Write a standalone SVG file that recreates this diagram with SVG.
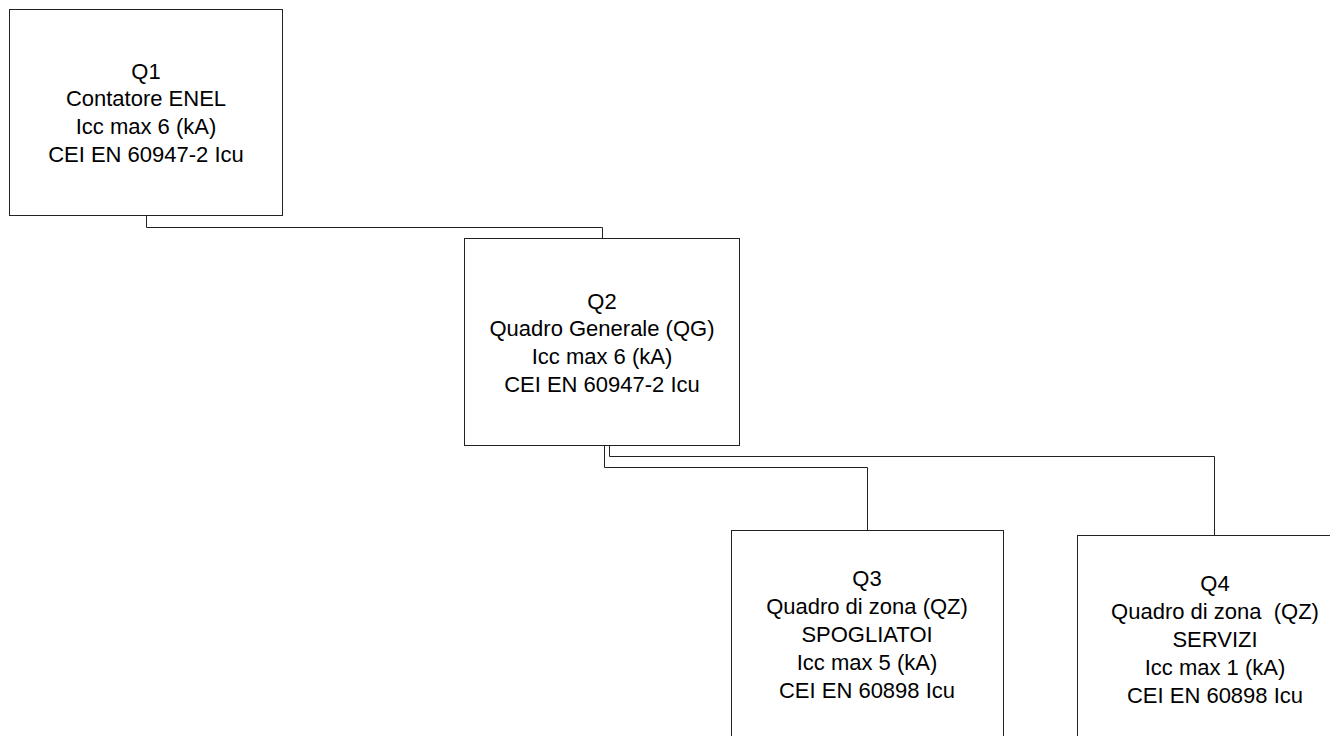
<svg xmlns="http://www.w3.org/2000/svg" width="1330" height="736" viewBox="0 0 1330 736">
<style>
.box{fill:#fff;stroke:#222;stroke-width:1}
.conn{fill:none;stroke:#222;stroke-width:1}
.lbl{font-family:"Liberation Sans",Arial,sans-serif;font-size:22px;fill:#000;text-anchor:middle;white-space:pre}
</style>
<rect width="1330" height="736" fill="#fff"/>
<g id="connectors">
<path class="conn" d="M146.5,216 V227.5 H602.5 V238"/>
<path class="conn" d="M604.5,446 V467.5 H867.5 V530"/>
<path class="conn" d="M609.5,446 V456.5 H1214.5 V535"/>
</g>
<g id="Q1">
<rect class="box" x="9.5" y="9.5" width="273" height="206"/>
<text class="lbl" x="146" y="78.5">Q1</text>
<text class="lbl" x="146" y="106.2">Contatore ENEL</text>
<text class="lbl" x="146" y="133.9">Icc max 6 (kA)</text>
<text class="lbl" x="146" y="161.6">CEI EN 60947-2 Icu</text>
</g>
<g id="Q2">
<rect class="box" x="464.5" y="238.5" width="275" height="207"/>
<text class="lbl" x="602" y="308.5">Q2</text>
<text class="lbl" x="602" y="336.2">Quadro Generale (QG)</text>
<text class="lbl" x="602" y="363.9">Icc max 6 (kA)</text>
<text class="lbl" x="602" y="391.6">CEI EN 60947-2 Icu</text>
</g>
<g id="Q3">
<rect class="box" x="731.5" y="530.5" width="272" height="208"/>
<text class="lbl" x="867" y="585.5">Q3</text>
<text class="lbl" x="867" y="613.5">Quadro di zona (QZ)</text>
<text class="lbl" x="867" y="641.5">SPOGLIATOI</text>
<text class="lbl" x="867" y="669.5">Icc max 5 (kA)</text>
<text class="lbl" x="867" y="697.5">CEI EN 60898 Icu</text>
</g>
<g id="Q4">
<rect class="box" x="1077.5" y="535.5" width="275" height="208"/>
<text class="lbl" x="1215" y="590.5">Q4</text>
<text class="lbl" x="1215" y="618.5" xml:space="preserve">Quadro di zona  (QZ)</text>
<text class="lbl" x="1215" y="646.5">SERVIZI</text>
<text class="lbl" x="1215" y="674.5">Icc max 1 (kA)</text>
<text class="lbl" x="1215" y="702.5">CEI EN 60898 Icu</text>
</g>
</svg>
